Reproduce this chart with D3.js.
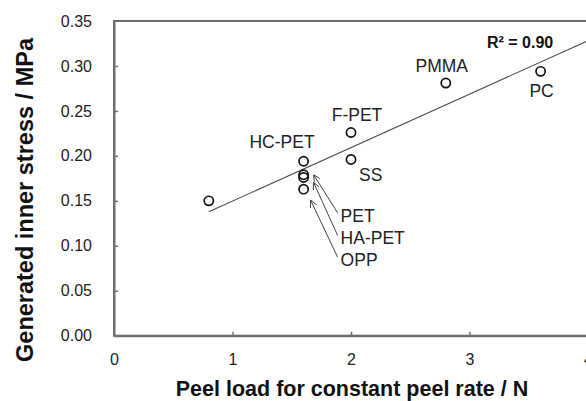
<!DOCTYPE html>
<html>
<head>
<meta charset="utf-8">
<script src="https://cdn.jsdelivr.net/npm/d3@7"></script>
<style>
  html, body { margin: 0; padding: 0; background: #fff; overflow: hidden; }
  svg { display: block; font-family: "Liberation Sans", Arial, sans-serif; }
</style>
</head>
<body>
<svg id="chart" width="586" height="401"></svg>
<script>
// Peel load (N) vs generated inner stress (MPa) for each film material
const materials   = ["", "HC-PET", "PET", "HA-PET", "OPP", "F-PET", "SS", "PMMA", "PC"];
const peelLoad    = [0.8, 1.6, 1.6, 1.6, 1.6, 2.0, 2.0, 2.8, 3.6];
const innerStress = [0.150, 0.194, 0.179, 0.176, 0.163, 0.226, 0.196, 0.281, 0.294];

const xTicks = [0, 1, 2, 3, 4];
const yTicks = [0.00, 0.05, 0.10, 0.15, 0.20, 0.25, 0.30, 0.35];

// Label placement relative to each point (pixels); callout labels sit apart with an arrow
const labelLayout = {
  "HC-PET": { dx: 11, dy: -13, anchor: "end" },
  "F-PET":  { dx: 6,  dy: -11, anchor: "middle" },
  "SS":     { dx: 8,  dy: 22,  anchor: "start" },
  "PMMA":   { dx: -4, dy: -11, anchor: "middle" },
  "PC":     { dx: 1,  dy: 26,  anchor: "middle" },
  "PET":    { dx: 37, dy: 47,  anchor: "start", arrow: { tx: 10, ty: 0 } },
  "HA-PET": { dx: 37, dy: 67,  anchor: "start", arrow: { tx: 10, ty: 5 } },
  "OPP":    { dx: 37, dy: 77,  anchor: "start", arrow: { tx: 7,  ty: 11 } }
};

const svg = d3.select("#chart");
const margin = { left: 114, top: 21 };
const plotW = 474, plotH = 314.7;

const x = d3.scaleLinear().domain([0, 4]).range([margin.left, margin.left + plotW]);
const y = d3.scaleLinear().domain([0, 0.35]).range([margin.top + plotH, margin.top]);

const axisColor = "#6e6e6e";

// Arrow marker for callouts
svg.append("defs").append("marker")
  .attr("id", "arrowhead")
  .attr("viewBox", "0 0 10 10")
  .attr("refX", 10).attr("refY", 5)
  .attr("markerWidth", 7).attr("markerHeight", 7)
  .attr("markerUnits", "userSpaceOnUse")
  .attr("orient", "auto")
  .append("path")
  .attr("d", "M0,0 L10,5 L0,10")
  .attr("fill", "none")
  .attr("stroke", "#333")
  .attr("stroke-width", 1.2);

// Plot frame
svg.append("rect")
  .attr("x", x(0)).attr("y", y(0.35))
  .attr("width", x(4) - x(0)).attr("height", y(0) - y(0.35))
  .attr("fill", "none")
  .attr("stroke", axisColor)
  .attr("stroke-width", 2);

// Axes with inward ticks
const xAxis = d3.axisBottom(x).tickValues(xTicks).tickFormat(d3.format("d")).tickSizeInner(-4).tickSizeOuter(0).tickPadding(18);
const yAxis = d3.axisLeft(y).tickValues(yTicks).tickFormat(d3.format(".2f")).tickSizeInner(-4).tickSizeOuter(0).tickPadding(22);

const gx = svg.append("g").attr("transform", `translate(0,${y(0)})`).call(xAxis);
const gy = svg.append("g").attr("transform", `translate(${x(0)},0)`).call(yAxis);

[gx, gy].forEach(g => {
  g.select(".domain").attr("stroke", axisColor).attr("stroke-width", 2);
  g.selectAll(".tick line").attr("stroke", axisColor).attr("stroke-width", 1.5);
  g.selectAll(".tick text").attr("fill", "#222").style("font-size", "16px")
    .style("font-family", "'Liberation Sans', Arial, sans-serif");
});
gx.selectAll(".tick line").filter(d => d === 0 || d === 4).remove();
gy.selectAll(".tick line").filter(d => d === 0 || d === 0.35).remove();

// Least-squares trend line
const n = peelLoad.length;
const mx = d3.mean(peelLoad), my = d3.mean(innerStress);
let sxx = 0, sxy = 0, syy = 0;
for (let i = 0; i < n; i++) {
  sxx += (peelLoad[i] - mx) ** 2;
  sxy += (peelLoad[i] - mx) * (innerStress[i] - my);
  syy += (innerStress[i] - my) ** 2;
}
const slope = sxy / sxx, intercept = my - slope * mx;
const r2 = (sxy * sxy) / (sxx * syy);
const x0 = d3.min(peelLoad), x1 = 4;
svg.append("line")
  .attr("x1", x(x0)).attr("y1", y(intercept + slope * x0))
  .attr("x2", x(x1)).attr("y2", y(intercept + slope * x1))
  .attr("stroke", "#4a4a4a").attr("stroke-width", 1.1);

svg.append("text")
  .attr("x", 487).attr("y", 48)
  .style("font-size", "16px").style("font-weight", "bold").attr("fill", "#111")
  .text(`R² = ${r2.toFixed(2)}`);

// Data points
svg.append("g").selectAll("circle")
  .data(peelLoad.map((v, i) => ({ px: v, py: innerStress[i], name: materials[i] })))
  .join("circle")
  .attr("cx", d => x(d.px)).attr("cy", d => y(d.py))
  .attr("r", 4.6)
  .attr("fill", "none").attr("stroke", "#111").attr("stroke-width", 1.7);

// Material labels and callout arrows
materials.forEach((name, i) => {
  const L = labelLayout[name];
  if (!L) return;
  const cx = x(peelLoad[i]), cy = y(innerStress[i]);
  const lx = cx + L.dx, ly = cy + L.dy;
  svg.append("text")
    .attr("x", lx).attr("y", ly)
    .attr("text-anchor", L.anchor)
    .style("font-size", "17.5px").attr("fill", "#222")
    .text(name);
  if (L.arrow) {
    svg.append("line")
      .attr("x1", lx - 3).attr("y1", ly - 9)
      .attr("x2", cx + L.arrow.tx).attr("y2", cy + L.arrow.ty)
      .attr("stroke", "#444").attr("stroke-width", 1)
      .attr("marker-end", "url(#arrowhead)");
  }
});

// Axis titles
svg.append("text")
  .attr("x", 352).attr("y", 395.5)
  .attr("text-anchor", "middle")
  .style("font-size", "21.5px").style("font-weight", "bold").attr("fill", "#111")
  .text("Peel load for constant peel rate / N");

svg.append("text")
  .attr("transform", "translate(33,200) rotate(-90)")
  .attr("text-anchor", "middle")
  .style("font-size", "23.5px").style("font-weight", "bold").attr("fill", "#111")
  .text("Generated inner stress / MPa");
</script>
</body>
</html>
